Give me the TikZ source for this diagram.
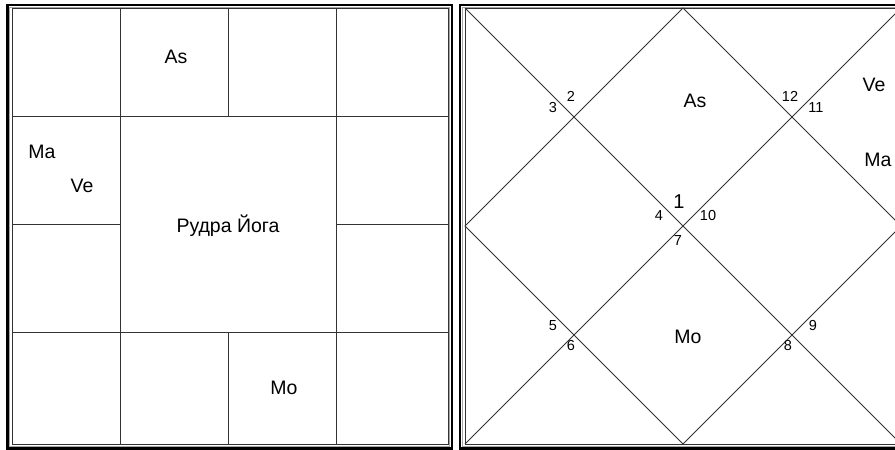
\documentclass[tikz,border=0pt]{standalone}
\usepackage{fontspec}
\setmainfont{Liberation Sans}
\usetikzlibrary{positioning, calc}
\tikzstyle{frame} = [draw=black, line width=2.6pt]
\tikzstyle{gapline} = [draw=black!35, line width=0.8pt]
\tikzstyle{grid} = [draw=black!80, line width=1pt]
\tikzstyle{planet} = [inner sep=0pt, font=\fontsize{19.5}{22}\selectfont]
\tikzstyle{house} = [inner sep=0pt, font=\fontsize{14.5}{16}\selectfont]

\begin{document}
\begin{tikzpicture}[x=1pt, y=-1pt]
  \clip (0,0) rectangle (895,450);
  \fill[white] (0,0) rectangle (895,450);

  % south indian chart
  \draw[frame] (7.5,5) rectangle (452,448.5);
  \draw[gapline] (9.8,7) rectangle (449.8,446.3);
  \coordinate (ltl) at (12,8);
  \coordinate (lbr) at (448,444);
  \draw[grid] (ltl) rectangle (lbr);
  \foreach \x in {120,336}
    \draw[grid] (\x,8) -- (\x,444);
  \foreach \y in {116,332}
    \draw[grid] (12,\y) -- (448,\y);
  \draw[grid] (228,8) -- (228,116);
  \draw[grid] (228,332) -- (228,444);
  \draw[grid] (12,224) -- (120,224);
  \draw[grid] (336,224) -- (448,224);

  \node[planet] (sAs) at (176,57) {As};
  \node[planet] (sMa) at (42,152) {Ma};
  \node[planet] (sVe) at (82,186) {Ve};
  \node[planet] (sMo) at (284,388) {Mo};
  \node[planet] (title) at (228,226) {Рудра Йога};

  % north indian chart
  \draw[frame] (460,5) rectangle (905,448.5);
  \draw[gapline] (462.3,7) rectangle (903,446.3);
  \coordinate (tl) at (465,8);
  \coordinate (tr) at (901,8);
  \coordinate (br) at (901,444);
  \coordinate (bl) at (465,444);
  \coordinate (tm) at (683,8);
  \coordinate (rm) at (901,226);
  \coordinate (bm) at (683,444);
  \coordinate (lm) at (465,226);
  \draw[grid] (tl) rectangle (br);
  \draw[grid] (tl) -- (br);
  \draw[grid] (tr) -- (bl);
  \draw[grid] (tm) -- (rm) -- (bm) -- (lm) -- cycle;

  \node[planet] (nAs) at (695,101) {As};
  \node[planet] (nVe) at (874,85) {Ve};
  \node[planet] (nMa) at (878,160) {Ma};
  \node[planet] (nMo) at (688,337) {Mo};

  \node[house, font=\fontsize{20}{22}\selectfont] (h1) at (679,202) {1};
  \node[house] (h2) at (571,96) {2};
  \node[house] (h3) at (553,108) {3};
  \node[house] (h4) at (659,216) {4};
  \node[house] (h5) at (553,326) {5};
  \node[house] (h6) at (571,346) {6};
  \node[house] (h7) at (678,241) {7};
  \node[house] (h8) at (788,346) {8};
  \node[house] (h9) at (813,326) {9};
  \node[house] (h10) at (708,216) {10};
  \node[house] (h11) at (816,108) {11};
  \node[house] (h12) at (790,96) {12};
\end{tikzpicture}
\end{document}
